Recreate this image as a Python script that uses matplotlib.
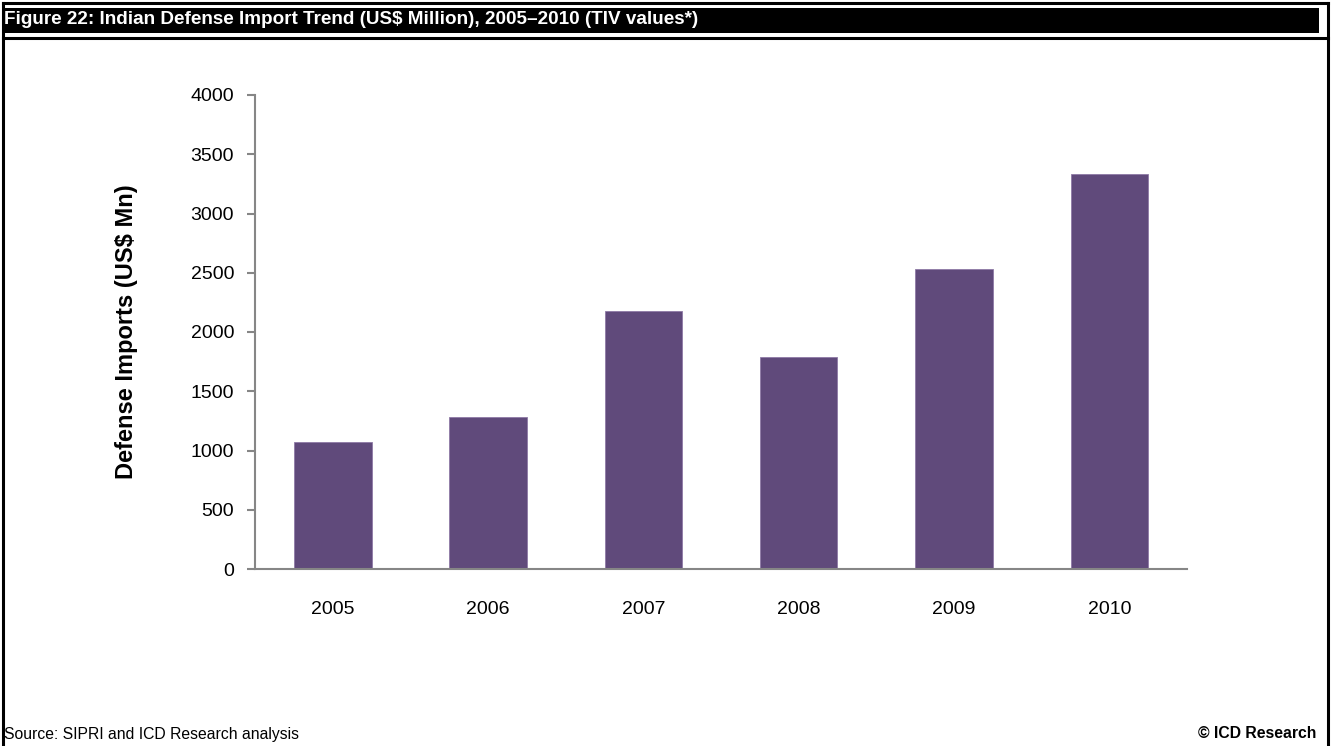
import matplotlib
matplotlib.use("Agg")
import matplotlib.pyplot as plt
from matplotlib.patches import Rectangle
from matplotlib.lines import Line2D

# Indian defence imports, SIPRI TIV, US$ million
years = ["2005", "2006", "2007", "2008", "2009", "2010"]
imports = [1070, 1280, 2177, 1786, 2529, 3333]
y_ticks = [0, 500, 1000, 1500, 2000, 2500, 3000, 3500, 4000]

title = "Figure 22: Indian Defense Import Trend (US$ Million), 2005\u20132010 (TIV values*)"
y_label = "Defense Imports (US$ Mn)"
source = "Source: SIPRI and ICD Research analysis"
copyright_note = "\u00a9 ICD Research"

plt.rcParams["font.family"] = ["Liberation Sans", "DejaVu Sans"]

W, H, DPI = 1333, 746, 100
fig = plt.figure(figsize=(W / DPI, H / DPI), dpi=DPI)
fig.patch.set_facecolor("white")


def px(x, y):
    """Pixel position (from top-left) to figure fraction."""
    return x / W, 1 - y / H


# Outer frame and header band
frame_kw = dict(color="black", linewidth=2.2, transform=fig.transFigure)
top, sep = 3, 38
fig.add_artist(Line2D([3 / W, 1328 / W], [1 - top / H, 1 - top / H], **frame_kw))
fig.add_artist(Line2D([3 / W, 3 / W], [0, 1 - top / H], **frame_kw))
fig.add_artist(Line2D([1328 / W, 1328 / W], [0, 1 - top / H], **frame_kw))
fig.add_artist(Line2D([3 / W, 1328 / W], [1 - sep / H, 1 - sep / H], **frame_kw))
bx, by = px(3, 33)
fig.add_artist(Rectangle((bx, by), 1316 / W, 25 / H, transform=fig.transFigure,
                         facecolor="black", edgecolor="none"))
tx, ty = px(4, 20)
fig.text(tx, ty, title, color="white", fontsize=13.6, fontweight="bold",
         va="center", ha="left")

# Footer
sx, sy = px(4, 734)
fig.text(sx, sy, source, fontsize=11.3, va="center", ha="left")
cx, cy = px(1316, 734)
fig.text(cx, cy, copyright_note, fontsize=11.3, fontweight="bold",
         va="center", ha="right")

# Chart
ax = fig.add_axes([255 / W, 1 - 569 / H, 932 / W, 474 / H])
x = range(len(years))
ax.bar(x, imports, width=0.5, color="#604A7B", edgecolor="#8E7AA6",
       linewidth=0.6, zorder=2)
ax.set_xlim(-0.5, len(years) - 0.5)
ax.set_ylim(0, 4000)
ax.set_yticks(y_ticks)
ax.set_yticklabels([str(v) for v in y_ticks])
ax.set_xticks(list(x))
ax.set_xticklabels(years)

axis_grey = "#868686"
for side in ("top", "right"):
    ax.spines[side].set_visible(False)
for side in ("left", "bottom"):
    ax.spines[side].set_color(axis_grey)
    ax.spines[side].set_linewidth(1.5)

ax.tick_params(axis="y", direction="out", length=6, width=1.5, color=axis_grey,
               labelsize=14, pad=9)
ax.tick_params(axis="x", length=0, labelsize=14, pad=23)
ax.set_ylabel(y_label, fontsize=17, fontweight="bold", labelpad=38)

fig.savefig("out.png", dpi=DPI, facecolor="white")
